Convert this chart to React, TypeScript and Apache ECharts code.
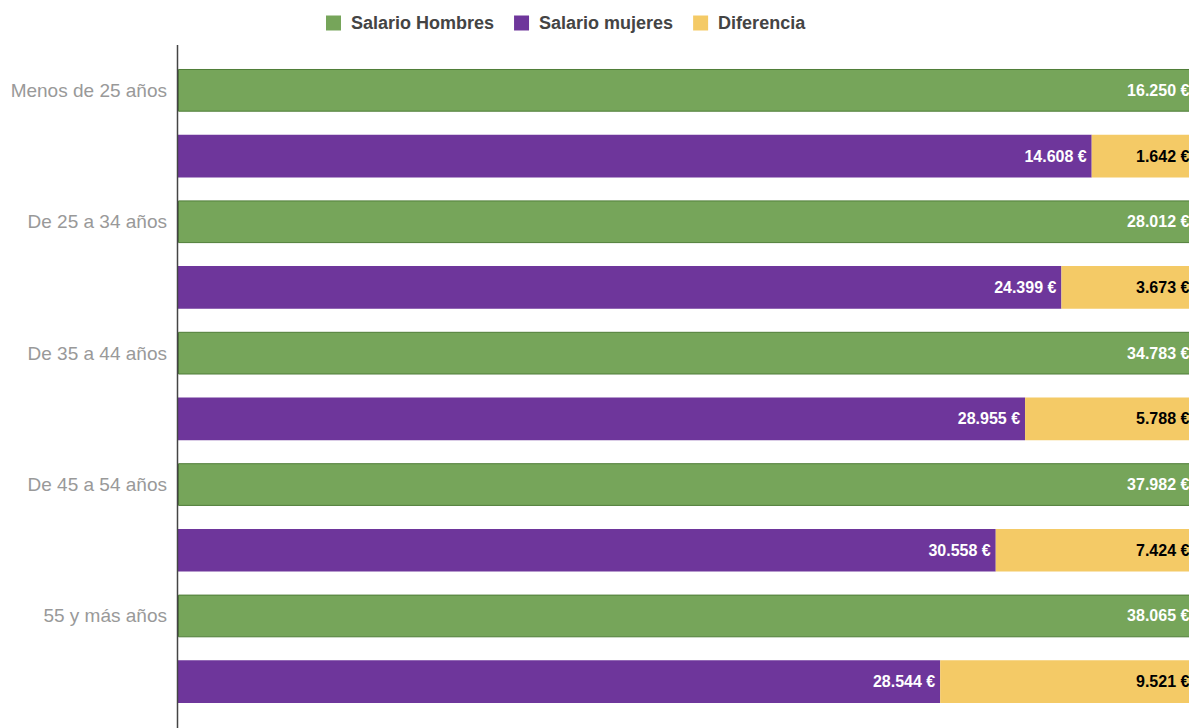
import React, { useEffect, useRef } from "react";
import * as echarts from "echarts";

const categories = ["Menos de 25 años", "De 25 a 34 años", "De 35 a 44 años", "De 45 a 54 años", "55 y más años"];
const hombres = [16250, 28012, 34783, 37982, 38065];
const mujeres = [14608, 24399, 28955, 30558, 28544];
const diferencia = [1642, 3673, 5788, 7424, 9521];
const seriesNames = ["Salario Hombres", "Salario mujeres", "Diferencia"];

const COLORS = { green: "#76a55a", purple: "#6e369b", yellow: "#f4ca66" };

function fmt(v: number): string {
  return String(v).replace(/\B(?=(\d{3})+(?!\d))/g, ".") + " €";
}

export default function App() {
  const ref = useRef<HTMLDivElement>(null);
  useEffect(() => {
    if (!ref.current) return;
    const chart = echarts.init(ref.current, undefined, { renderer: "svg" });
    const slots: string[] = [];
    categories.forEach((c) => {
      slots.push(c);
      slots.push("");
    });
    const greenData: (number | string)[] = [];
    const purpleData: (number | string)[] = [];
    const yellowData: (number | string)[] = [];
    categories.forEach((_, i) => {
      const total = mujeres[i] + diferencia[i];
      greenData.push(100, "-");
      purpleData.push("-", (mujeres[i] / total) * 100);
      yellowData.push("-", (diferencia[i] / total) * 100);
    });
    const labelBase = {
      show: true,
      position: "insideRight",
      distance: 5,
      fontSize: 16,
      fontWeight: "bold",
      fontFamily: "Arial, 'Liberation Sans', sans-serif",
    };
    chart.setOption({
      animation: false,
      legend: {
        data: seriesNames,
        left: 321,
        top: 9,
        itemWidth: 15,
        itemHeight: 15,
        itemGap: 20,
        icon: "rect",
        selectedMode: false,
        itemStyle: { borderWidth: 0 },
        textStyle: {
          fontSize: 18,
          fontWeight: "bold",
          color: "#444",
          fontFamily: "Arial, 'Liberation Sans', sans-serif",
          padding: [0, 0, 0, 5],
        },
      },
      grid: { left: 178, right: 5.6, top: 57.5, height: 657, containLabel: false },
      xAxis: { type: "value", min: 0, max: 100, show: false },
      yAxis: {
        type: "category",
        data: slots,
        inverse: true,
        axisLine: { show: false },
        axisTick: { show: false },
        axisLabel: {
          color: "#999",
          fontSize: 19,
          margin: 11,
          fontFamily: "Arial, 'Liberation Sans', sans-serif",
          interval: 0,
        },
      },
      graphic: [
        {
          type: "line",
          shape: { x1: 177.5, y1: 45, x2: 177.5, y2: 740 },
          style: { stroke: "#444", lineWidth: 1.5 },
          z: 100,
        },
      ],
      series: [
        {
          name: seriesNames[0],
          type: "bar",
          stack: "total",
          barWidth: "65%",
          data: greenData,
          itemStyle: { color: COLORS.green, borderColor: "#4f7d38", borderWidth: 1 },
          label: {
            ...labelBase,
            color: "#fff",
            formatter: (p: any) => fmt(hombres[Math.floor(p.dataIndex / 2)]),
          },
        },
        {
          name: seriesNames[1],
          type: "bar",
          stack: "total",
          barWidth: "65%",
          data: purpleData,
          itemStyle: { color: COLORS.purple },
          label: {
            ...labelBase,
            color: "#fff",
            formatter: (p: any) => fmt(mujeres[Math.floor(p.dataIndex / 2)]),
          },
        },
        {
          name: seriesNames[2],
          type: "bar",
          stack: "total",
          barWidth: "65%",
          data: yellowData,
          itemStyle: { color: COLORS.yellow },
          label: {
            ...labelBase,
            color: "#000",
            formatter: (p: any) => fmt(diferencia[Math.floor(p.dataIndex / 2)]),
          },
        },
      ],
    });
    return () => chart.dispose();
  }, []);
  return (
    <div style={{ position: "fixed", left: 0, top: 0, width: 1189, height: 728, overflow: "hidden", background: "#fff" }}>
      <div ref={ref} style={{ width: 1200, height: 740 }} />
    </div>
  );
}
